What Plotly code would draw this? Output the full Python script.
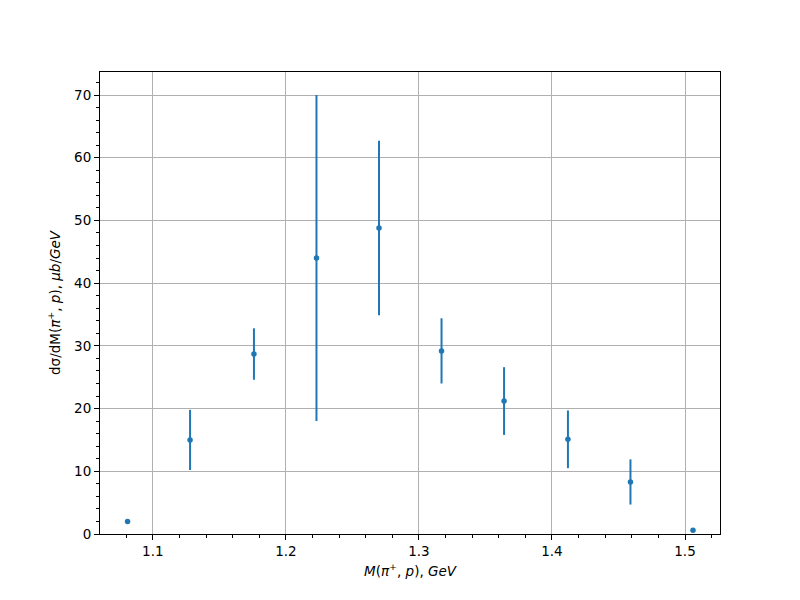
import plotly.graph_objects as go

mass = [1.081, 1.128, 1.176, 1.223, 1.270, 1.317, 1.364, 1.412, 1.459, 1.506]
xsec = [2.0, 15.0, 28.7, 44.0, 48.8, 29.2, 21.2, 15.1, 8.3, 0.6]
err = [0.0, 4.8, 4.1, 26.0, 13.9, 5.2, 5.4, 4.6, 3.6, 0.0]

blue = "#1f77b4"
fig = go.Figure()
fig.add_trace(go.Scatter(
    x=mass, y=xsec, mode="markers",
    marker=dict(color=blue, size=5.5),
    error_y=dict(type="data", array=err, visible=True, color=blue, thickness=2, width=0),
    showlegend=False,
))

axis_common = dict(
    showline=True, linecolor="black", linewidth=1, mirror=True,
    showgrid=True, gridcolor="#b0b0b0", gridwidth=1,
    ticks="outside", ticklen=5, tickcolor="black", zeroline=False,
    tickfont=dict(family="DejaVu Sans", size=13.5, color="black"),
)
fig.update_xaxes(
    range=[1.0603, 1.5263], dtick=0.1, tick0=1.1, tickformat=".1f",
    minor=dict(dtick=0.02, tick0=1.0, ticks="outside", ticklen=3, tickcolor="black", showgrid=False),
    title=dict(text="<i>M</i>(<i>π</i><sup>+</sup>, <i>p</i>), <i>GeV</i>",
               font=dict(family="DejaVu Sans", size=13.5, color="black"), standoff=8),
    **axis_common,
)
fig.update_yaxes(
    range=[0, 73.67], dtick=10, tick0=0,
    minor=dict(dtick=2, tick0=0, ticks="outside", ticklen=3, tickcolor="black", showgrid=False),
    title=dict(text="dσ/dM(<i>π</i><sup>+</sup>, <i>p</i>), <i>μb</i>/<i>GeV</i>",
               font=dict(family="DejaVu Sans", size=13.5, color="black"), standoff=10),
    **axis_common,
)
fig.update_layout(
    width=800, height=600,
    margin=dict(l=92, r=88, t=64, b=74),
    paper_bgcolor="white", plot_bgcolor="white",
    font=dict(family="DejaVu Sans", color="black"),
)
fig.write_html("out.html")
